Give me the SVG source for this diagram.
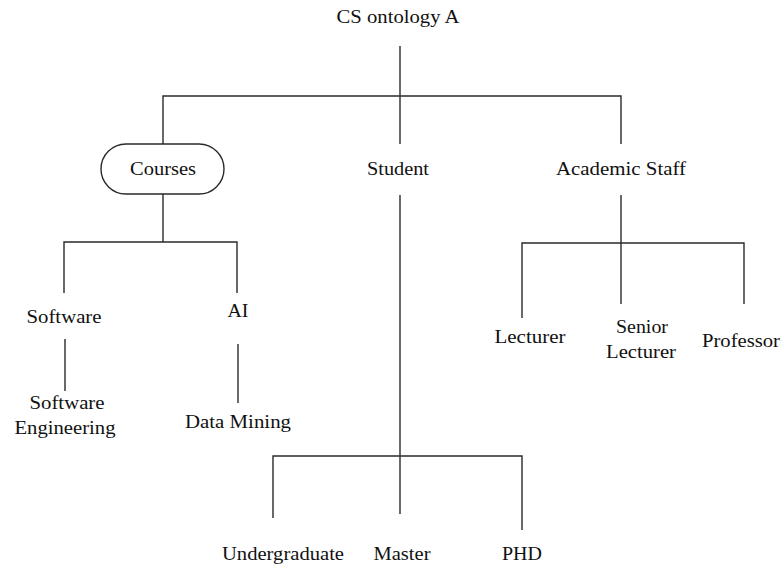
<svg xmlns="http://www.w3.org/2000/svg" width="784" height="569" viewBox="0 0 784 569">
<style>
text{font-family:'Liberation Serif','Times New Roman',serif;font-size:19px;fill:#111;text-anchor:middle}
.c line,.c path{stroke:#2a2a2a;stroke-width:1.4;fill:none}
.pill{fill:#fff;stroke:#2a2a2a;stroke-width:1.4}
</style>
<rect width="784" height="569" fill="#fff"/>
<g class="c" id="connectors">
<line x1="400" y1="46" x2="400" y2="144"/>
<path d="M163 144V96H621V144"/>
<path d="M163 194V242"/>
<path d="M64 293V242H237V293"/>
<line x1="65" y1="339" x2="65" y2="391"/>
<line x1="238" y1="344" x2="238" y2="403"/>
<line x1="400" y1="195" x2="400" y2="514"/>
<path d="M273 518V456H522V530"/>
<line x1="621" y1="195" x2="621" y2="304"/>
<path d="M522 318V243H744V304"/>
</g>
<g id="root"><text x="398" y="23" textLength="123" lengthAdjust="spacingAndGlyphs">CS ontology A</text></g>
<g id="courses"><rect class="pill" x="101" y="144" width="123" height="50" rx="25"/><text x="163" y="175" textLength="66" lengthAdjust="spacingAndGlyphs">Courses</text></g>
<g id="student"><text x="398" y="175" textLength="62" lengthAdjust="spacingAndGlyphs">Student</text></g>
<g id="academic-staff"><text x="621" y="175" textLength="130" lengthAdjust="spacingAndGlyphs">Academic Staff</text></g>
<g id="software"><text x="64" y="323" textLength="75" lengthAdjust="spacingAndGlyphs">Software</text></g>
<g id="ai"><text x="238" y="317" textLength="21" lengthAdjust="spacingAndGlyphs">AI</text></g>
<g id="software-engineering"><text x="67" y="409" textLength="75" lengthAdjust="spacingAndGlyphs">Software</text><text x="65" y="434" textLength="101" lengthAdjust="spacingAndGlyphs">Engineering</text></g>
<g id="data-mining"><text x="238" y="428" textLength="106" lengthAdjust="spacingAndGlyphs">Data Mining</text></g>
<g id="undergraduate"><text x="283" y="560" textLength="122" lengthAdjust="spacingAndGlyphs">Undergraduate</text></g>
<g id="master"><text x="402" y="560" textLength="57" lengthAdjust="spacingAndGlyphs">Master</text></g>
<g id="phd"><text x="522" y="560" textLength="40" lengthAdjust="spacingAndGlyphs">PHD</text></g>
<g id="lecturer"><text x="530" y="343" textLength="71" lengthAdjust="spacingAndGlyphs">Lecturer</text></g>
<g id="senior-lecturer"><text x="642" y="333" textLength="52" lengthAdjust="spacingAndGlyphs">Senior</text><text x="641" y="358" textLength="70" lengthAdjust="spacingAndGlyphs">Lecturer</text></g>
<g id="professor"><text x="741" y="347" textLength="78" lengthAdjust="spacingAndGlyphs">Professor</text></g>
</svg>
